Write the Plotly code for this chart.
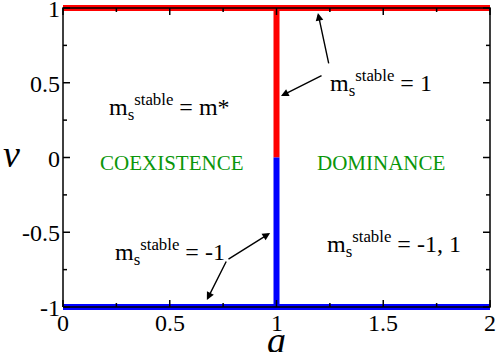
import plotly.graph_objects as go

# ---- data ----
upper_a = [0, 2]          # horizontal red line at v = 1
upper_v = [1, 1]
lower_a = [0, 2]          # horizontal blue line at v = -1
lower_v = [-1, -1]
crit_a = 1.0              # vertical boundary
red_vert_v = [0, 1]
blue_vert_v = [-1, 0]

x_range = [0, 2]
y_range = [-1, 1]
x_ticks = [0, 0.5, 1, 1.5, 2]
x_ticklabels = ["0", "0.5", "1", "1.5", "2"]
x_minor = [0.25, 0.75, 1.25, 1.75]
y_ticks = [-1, -0.5, 0, 0.5, 1]
y_ticklabels = ["-1", "-0.5", "0", "0.5", "1"]
y_minor = [-0.75, -0.25, 0.25, 0.75]
x_title = "<i>a</i>"
y_title = "<i>v</i>"

region_labels = ["COEXISTENCE", "DOMINANCE"]
region_a = [0.51, 1.49]
region_v = [-0.04, -0.04]

state_labels = [
    "m<sub>s</sub><sup>stable</sup> = m*",
    "m<sub>s</sub><sup>stable</sup> = 1",
    "m<sub>s</sub><sup>stable</sup> = -1",
    "m<sub>s</sub><sup>stable</sup> = -1, 1",
]
state_a = [0.50, 1.49, 0.50, 1.55]
state_v = [0.34, 0.50, -0.63, -0.58]

# arrows: (tail_a, tail_v, head_a, head_v)
arrows = [
    (1.218, 0.552, 1.021, 0.411),
    (1.246, 0.619, 1.194, 0.967),
    (0.768, -0.686, 0.674, -0.953),
    (0.768, -0.686, 0.970, -0.505),
]

# ---- geometry ----
W, H = 498, 352
L, R, T, B = 63, 490, 8, 307   # frame in pixels
E = 7                          # room around the frame so thick edge lines are not clipped
xpp = (x_range[1] - x_range[0]) / (R - L)   # data units per pixel
ypp = (y_range[1] - y_range[0]) / (B - T)

FONT = "Liberation Serif"
RED = "#ff0000"
BLUE = "#0000ff"
GREEN = "#0a960a"
MAJ, MIN = 7, 4
LW = 1.5

fig = go.Figure()
for xs, ys, col in [(upper_a, upper_v, RED), (lower_a, lower_v, BLUE),
                    ([crit_a, crit_a], red_vert_v, RED), ([crit_a, crit_a], blue_vert_v, BLUE)]:
    fig.add_trace(go.Scatter(x=xs, y=ys, mode="lines", line=dict(color=col, width=6),
                             hoverinfo="skip"))

# axes frame (box) drawn over the thick lines, like the original
x0, x1 = x_range
y0, y1 = y_range
fig.add_trace(go.Scatter(x=[x0, x1, x1, x0, x0], y=[y0, y0, y1, y1, y0], mode="lines",
                         line=dict(color="black", width=LW), hoverinfo="skip"))

# inside, mirrored tick marks
tx, ty = [], []
for vals, length in [(x_ticks, MAJ), (x_minor, MIN)]:
    for xv in vals:
        tx += [xv, xv, None, xv, xv, None]
        ty += [y0, y0 + length * ypp, None, y1, y1 - length * ypp, None]
for vals, length in [(y_ticks, MAJ), (y_minor, MIN)]:
    for yv in vals:
        tx += [x0, x0 + length * xpp, None, x1, x1 - length * xpp, None]
        ty += [yv, yv, None, yv, yv, None]
fig.add_trace(go.Scatter(x=tx, y=ty, mode="lines", line=dict(color="black", width=LW),
                         connectgaps=False, hoverinfo="skip"))

fig.update_layout(
    template="none",
    width=W, height=H,
    margin=dict(l=L - E, r=W - R - E, t=T - E, b=H - B - E, pad=0),
    paper_bgcolor="white", plot_bgcolor="white",
    showlegend=False,
    font=dict(family=FONT, color="black"),
    xaxis=dict(range=[x0 - E * xpp, x1 + E * xpp], visible=False,
               fixedrange=True, automargin=False),
    yaxis=dict(range=[y0 - E * ypp, y1 + E * ypp], visible=False,
               fixedrange=True, automargin=False),
)

# tick labels
for xv, txt in zip(x_ticks, x_ticklabels):
    fig.add_annotation(x=xv, y=y0, text=txt, showarrow=False,
                       xanchor="center", yanchor="middle", yshift=-16,
                       font=dict(family=FONT, size=24, color="black"))
for yv, txt in zip(y_ticks, y_ticklabels):
    fig.add_annotation(x=x0, y=yv, text=txt, showarrow=False,
                       xanchor="right", yanchor="middle", xshift=-1, yshift=-1,
                       font=dict(family=FONT, size=24, color="black"))

# axis titles
fig.add_annotation(x=(x0 + x1) / 2, y=y0, text=x_title,
                   showarrow=False, xanchor="center", yanchor="middle", yshift=-33,
                   font=dict(family=FONT, size=38, color="black"))
fig.add_annotation(x=x0, y=(y0 + y1) / 2, text=y_title,
                   showarrow=False, xanchor="center", yanchor="middle", xshift=-52, yshift=4,
                   font=dict(family=FONT, size=38, color="black"))

for txt, a, v in zip(region_labels, region_a, region_v):
    fig.add_annotation(x=a, y=v, text=txt, showarrow=False,
                       font=dict(family=FONT, size=21, color=GREEN))

for txt, a, v in zip(state_labels, state_a, state_v):
    fig.add_annotation(x=a, y=v, text=txt, showarrow=False,
                       font=dict(family=FONT, size=24, color="black"))

for ta, tv, ha, hv in arrows:
    fig.add_annotation(x=ha, y=hv, ax=ta, ay=tv, axref="x", ayref="y",
                       text="", showarrow=True,
                       arrowhead=2, arrowsize=1.1, arrowwidth=1.4, arrowcolor="black")

fig.write_html("out.html", config={"displayModeBar": False, "staticPlot": True},
               post_script="document.body.style.margin='0px';")
